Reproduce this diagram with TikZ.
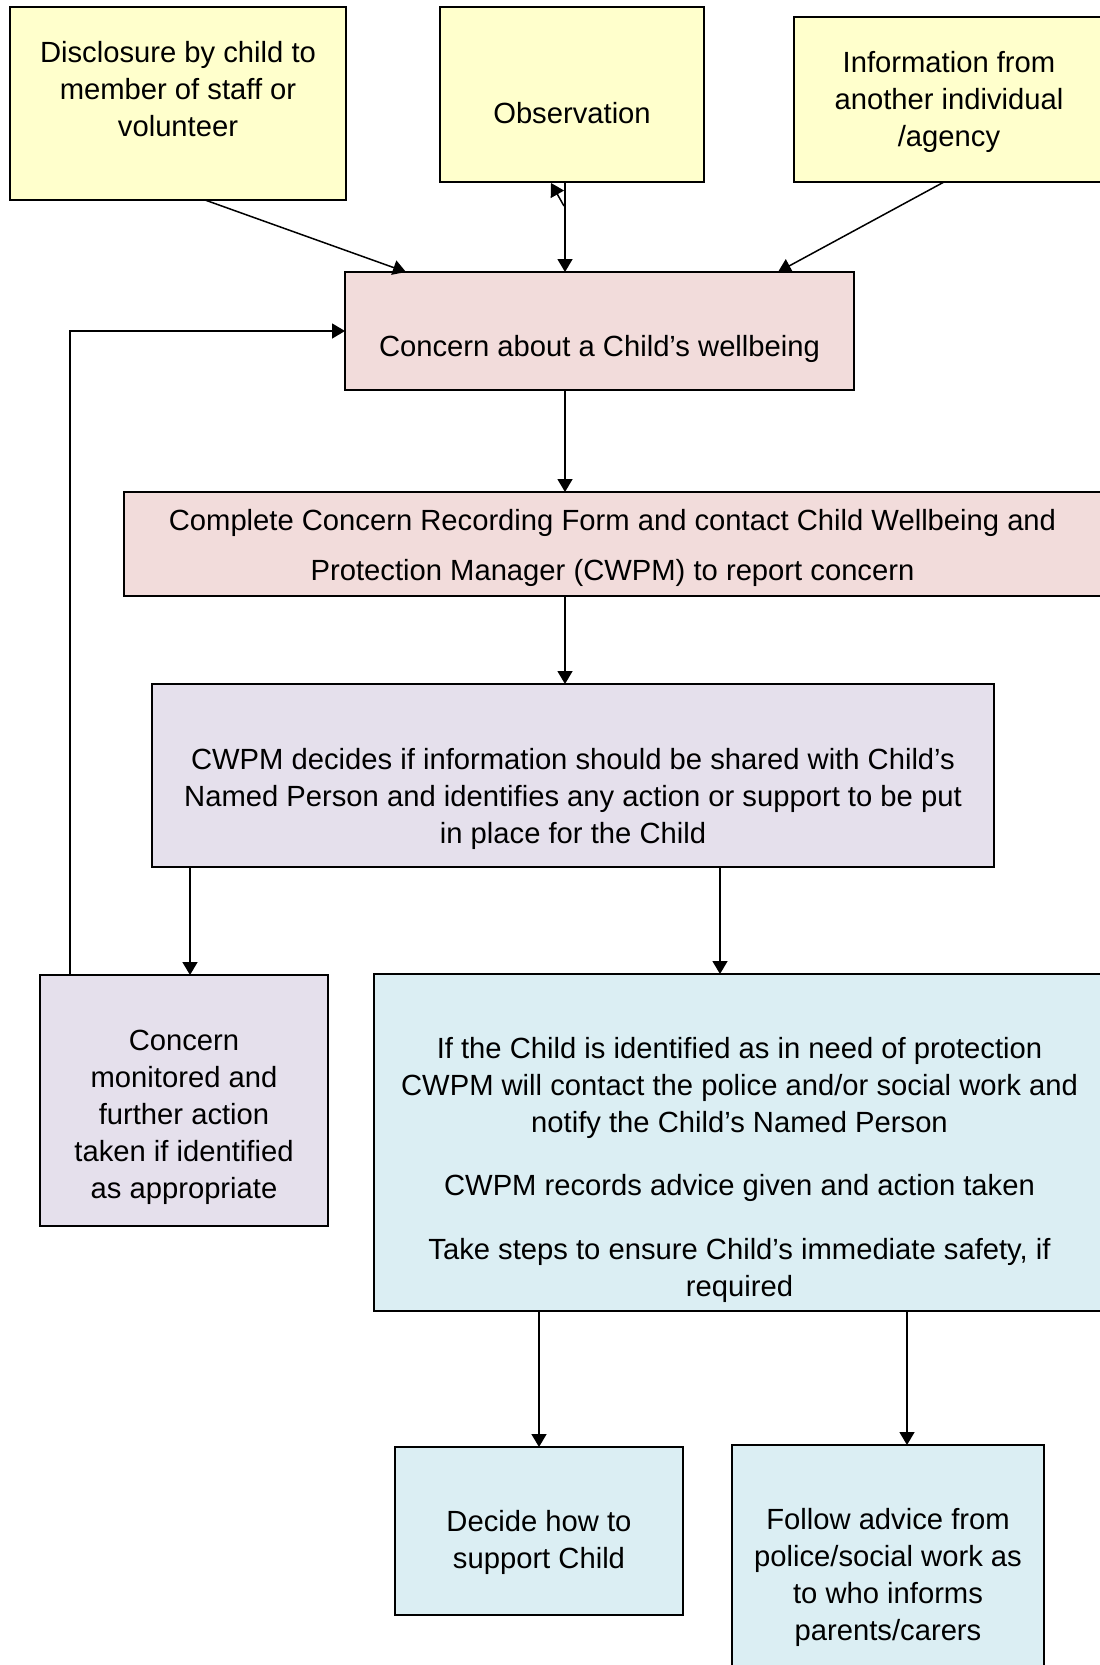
\documentclass[tikz,border=0pt]{standalone}
\usepackage{fontspec}
\setmainfont{Liberation Sans}
\usetikzlibrary{calc,arrows.meta}

\definecolor{boxyellow}{HTML}{FFFFCC}
\definecolor{boxpink}{HTML}{F2DCDB}
\definecolor{boxlilac}{HTML}{E5E0EC}
\definecolor{boxblue}{HTML}{DBEEF3}

\begin{document}
\begin{tikzpicture}[x=0.5pt, y=-0.5pt]
    \tikzstyle{box}=[draw, line width=1pt, inner sep=0, outer sep=0]
    \tikzstyle{txt}=[align=center, inner sep=0, font=\fontsize{14.6}{18.5}\selectfont]
    \tikzstyle{arr}=[line width=.75pt, -{Triangle[length=6.5pt,width=7.5pt]}]
    \useasboundingbox (0,0) rectangle (1099,1665);
    % sources of a concern
    \node[box, fill=boxyellow, minimum width=168pt, minimum height=96.5pt] (disc) at (178,103.5) {};
    \node[box, fill=boxyellow, minimum width=132pt, minimum height=87.5pt] (obs) at (572,94.5) {};
    \node[box, fill=boxyellow, minimum width=155pt, minimum height=82.5pt] (info) at (949,99.5) {};
    \node[txt] (disc-t) at ($(disc.center)+(0,-14.5)$) {Disclosure by child to\\member of staff or\\volunteer};
    \node[txt] (obs-t) at ($(obs.center)+(0,18.5)$) {Observation};
    \node[txt] (info-t) at ($(info.center)+(0,2.5)$) {Information from\\another individual\\/agency};
    % concern and reporting
    \node[box, fill=boxpink, minimum width=254.5pt, minimum height=59pt] (concern) at (599.5,331) {};
    \node[txt] (concern-t) at ($(concern.center)+(0,18)$) {Concern about a Child’s wellbeing};
    \node[box, fill=boxpink, minimum width=488.5pt, minimum height=52pt] (complete) at (612.5,544) {};
    \node[txt] (complete-t) at ($(complete.center)+(0,4)$) {Complete Concern Recording Form and contact Child Wellbeing and\\[6.5pt]Protection Manager (CWPM) to report concern};
    \node[box, fill=boxlilac, minimum width=421pt, minimum height=91.5pt] (cwpm) at (573,775.5) {};
    \node[txt] (cwpm-t) at ($(cwpm.center)+(0,23)$) {CWPM decides if information should be shared with Child’s\\Named Person and identifies any action or support to be put\\in place for the Child};
    % outcomes
    \node[box, fill=boxlilac, minimum width=144pt, minimum height=125.5pt] (monitor) at (184,1100.5) {};
    \node[txt] (monitor-t) at ($(monitor.center)+(0,17)$) {Concern\\monitored and\\further action\\taken if identified\\as appropriate};
    \node[box, fill=boxblue, minimum width=365.5pt, minimum height=168.5pt] (protect) at (739.5,1142.5) {};
    \node[txt] (protect-t) at ($(protect.center)+(0,27.5)$) {If the Child is identified as in need of protection\\CWPM will contact the police and/or social work and\\notify the Child’s Named Person\\[13pt]CWPM records advice given and action taken\\[13.5pt]Take steps to ensure Child’s immediate safety, if\\required};
    \node[box, fill=boxblue, minimum width=144pt, minimum height=84pt] (decide) at (539,1531) {};
    \node[txt] (decide-t) at ($(decide.center)+(0,11)$) {Decide how to\\support Child};
    \node[box, fill=boxblue, minimum width=156pt, minimum height=117.5pt] (follow) at (888,1562.5) {};
    \node[txt] (follow-t) at ($(follow.center)+(0,14.5)$) {Follow advice from\\police/social work as\\to who informs\\parents/carers};
    % connectors
    \coordinate (col) at (565,0);
    \coordinate (m-in) at ($(monitor.north)+(6,0)$);
    \coordinate (p-in) at ($(protect.north west)+(346,0)$);
    \coordinate (f-in) at ($(follow.north)+(19,0)$);
    \coordinate (back) at ($(monitor.north west)+(30,0)$);
    \draw[arr] ($(disc.south)+(27,0)$) -- ($(concern.north west)+(61,0)$);
    \draw[arr] ($(info.south)+(-5,0)$) -- ($(concern.north east)+(-76,0)$);
    \draw[arr] (obs.south -| col) -- (concern.north -| col);
    \draw[arr] ($(obs.south -| col)+(-1,24)$) -- ($(obs.south -| col)+(-14,1)$);
    \draw[arr] (concern.south -| col) -- (complete.north -| col);
    \draw[arr] (complete.south -| col) -- (cwpm.north -| col);
    \draw[arr] (cwpm.south -| m-in) -- (m-in);
    \draw[arr] (cwpm.south -| p-in) -- (p-in);
    \draw[arr] (back) |- (concern.west);
    \draw[arr] (protect.south -| decide.north) -- (decide.north);
    \draw[arr] (protect.south -| f-in) -- (f-in);
\end{tikzpicture}
\end{document}
